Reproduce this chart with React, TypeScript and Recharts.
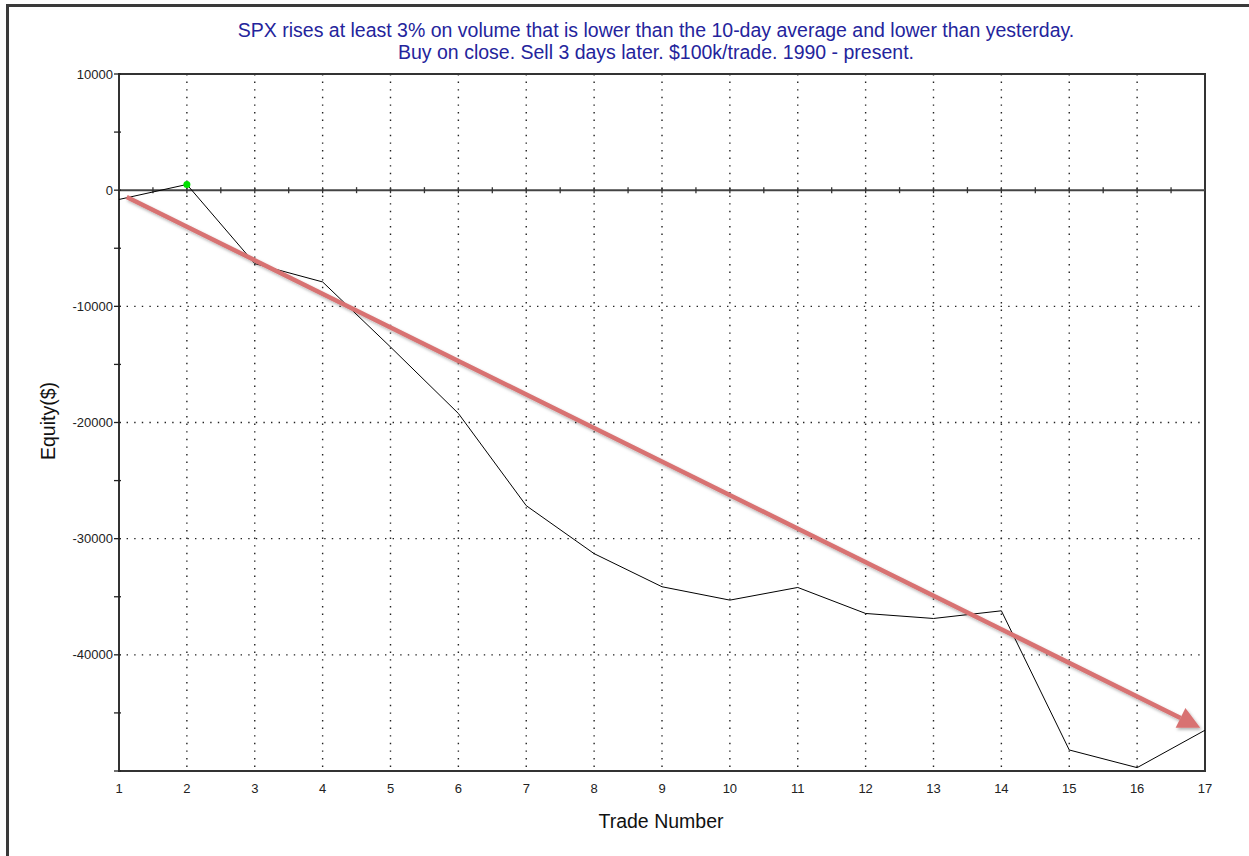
import React from "react";
import {
  LineChart,
  Line,
  XAxis,
  YAxis,
  CartesianGrid,
  ReferenceLine,
  ReferenceArea,
} from "recharts";

// trade number -> cumulative equity ($)
const trades = [1, 2, 3, 4, 5, 6, 7, 8, 9, 10, 11, 12, 13, 14, 15, 16, 17];
const equity = [
  -800, 490, -6320, -7900, -13500, -19220, -27160, -31290, -34140, -35290,
  -34200, -36440, -36870, -36210, -48190, -49710, -46490,
];

const xTicks = trades;
const yTicks = [10000, 5000, 0, -5000, -10000, -15000, -20000, -25000, -30000, -35000, -40000, -45000, -50000];
const yLabels = [10000, 0, -10000, -20000, -30000, -40000];
const gridX = [2, 3, 4, 5, 6, 7, 8, 9, 10, 11, 12, 13, 14, 15, 16];
const gridY = [-10000, -20000, -30000, -40000];

// hand drawn trend arrow (start / tip in data units)
const arrowFrom = { x: 1.113, y: -580 };
const arrowTo = { x: 16.93, y: -46270 };

const FONT = "Arial, 'Liberation Sans', sans-serif";

const data = trades.map((t, i) => ({ trade: t, equity: equity[i] }));
const peakIdx = equity.indexOf(Math.max(...equity));

function YTick(props: any) {
  const { x, y, payload } = props;
  const v = payload.value;
  return (
    <g>
      <line x1={x - 5} y1={y} x2={x + 2} y2={y} stroke="#222" strokeWidth={1.3} />
      {yLabels.includes(v) && (
        <text x={x - 6} y={y} dy="0.35em" textAnchor="end" fontSize={13} fill="#222" fontFamily={FONT}>
          {v}
        </text>
      )}
    </g>
  );
}

function XTick(props: any) {
  const { x, y, payload } = props;
  return (
    <text x={x} y={y} dy="0.71em" textAnchor="middle" fontSize={13} fill="#222" fontFamily={FONT}>
      {payload.value}
    </text>
  );
}

function ZeroLine(props: any) {
  const { x1, x2, y1 } = props;
  const n = (xTicks[xTicks.length - 1] - xTicks[0]) * 2;
  const step = (x2 - x1) / n;
  const marks = [];
  for (let i = 1; i < n; i++) {
    const x = x1 + i * step;
    marks.push(<line key={i} x1={x} x2={x} y1={y1 - 3} y2={y1 + 3} stroke="#333" strokeWidth={1.3} />);
  }
  return (
    <g>
      <line x1={x1} x2={x2} y1={y1} y2={y1} stroke="#444" strokeWidth={2} />
      {marks}
    </g>
  );
}

function Arrow(props: any) {
  const { x1, y1, x2, y2 } = props;
  const dx = x2 - x1;
  const dy = y2 - y1;
  const len = Math.sqrt(dx * dx + dy * dy);
  const ux = dx / len;
  const uy = dy / len;
  const headLen = 22;
  const headW = 11;
  const bx = x2 - ux * headLen;
  const by = y2 - uy * headLen;
  const color = "#d87272";
  return (
    <g filter="url(#arrowShadow)">
      <defs>
        <filter id="arrowShadow" x="-10%" y="-10%" width="120%" height="120%">
          <feDropShadow dx="1.5" dy="2" stdDeviation="1.5" floodColor="#000" floodOpacity="0.3" />
        </filter>
      </defs>
      <line x1={x1} y1={y1} x2={bx} y2={by} stroke={color} strokeWidth={4.5} />
      <polygon
        points={`${x2},${y2} ${bx - uy * headW},${by + ux * headW} ${bx + uy * headW},${by - ux * headW}`}
        fill={color}
      />
    </g>
  );
}

function Dot(props: any) {
  const { cx, cy, index } = props;
  if (index !== peakIdx) return <g key={index} />;
  return <circle key={index} cx={cx} cy={cy} r={3.5} fill="#00e000" />;
}

export default function App() {
  return (
    <div
      style={{
        position: "fixed",
        left: 0,
        top: 0,
        width: 1249,
        height: 856,
        background: "#fff",
        fontFamily: FONT,
        overflow: "hidden",
      }}
    >
      {/* window frame */}
      <div
        style={{
          position: "absolute",
          left: 6,
          top: 4,
          right: 0,
          bottom: 0,
          borderLeft: "3px solid #3a3a3a",
          borderTop: "3px solid #3a3a3a",
        }}
      />

      {/* title */}
      <div
        style={{
          position: "absolute",
          left: 156,
          top: 19,
          width: 1000,
          textAlign: "center",
          color: "#24249c",
          fontSize: 19.5,
          lineHeight: "22px",
        }}
      >
        <div>SPX rises at least 3% on volume that is lower than the 10-day average and lower than yesterday.</div>
        <div>Buy on close. Sell 3 days later. $100k/trade. 1990 - present.</div>
      </div>

      <div style={{ position: "absolute", left: 0, top: 0 }}>
        <LineChart
          width={1249}
          height={856}
          data={data}
          margin={{ top: 74, right: 44, bottom: 55, left: 59 }}
        >
          <CartesianGrid
            stroke="#222"
            strokeWidth={1.4}
            strokeDasharray="1.4 6.2"
            verticalValues={gridX}
            horizontalValues={gridY}
          />
          <XAxis
            dataKey="trade"
            type="number"
            domain={[1, 17]}
            ticks={xTicks}
            height={30}
            axisLine={false}
            tickLine={false}
            tickSize={0}
            tickMargin={13}
            tick={<XTick />}
            interval={0}
          />
          <YAxis
            type="number"
            domain={[-50000, 10000]}
            ticks={yTicks}
            width={60}
            axisLine={false}
            tickLine={false}
            tickSize={0}
            tickMargin={0}
            tick={<YTick />}
            interval={0}
          />
          <ReferenceArea
            x1={1}
            x2={17}
            y1={-50000}
            y2={10000}
            fill="none"
            stroke="#333"
            strokeWidth={2}
            ifOverflow="visible"
          />
          <ReferenceLine y={0} shape={(p: any) => <ZeroLine {...p} />} />
          <Line
            type="linear"
            dataKey="equity"
            stroke="#000"
            strokeWidth={1}
            dot={(p: any) => <Dot {...p} />}
            activeDot={false}
            isAnimationActive={false}
          />
          <ReferenceLine
            segment={[arrowFrom, arrowTo]}
            ifOverflow="visible"
            shape={(p: any) => <Arrow {...p} />}
          />
        </LineChart>
      </div>

      {/* axis titles */}
      <div
        style={{
          position: "absolute",
          left: 48,
          top: 421,
          transform: "translate(-50%, -50%) rotate(-90deg)",
          fontSize: 19.5,
          color: "#111",
          whiteSpace: "nowrap",
        }}
      >
        Equity($)
      </div>
      <div
        style={{
          position: "absolute",
          left: 661,
          top: 821,
          transform: "translate(-50%, -50%)",
          fontSize: 19.5,
          color: "#111",
          whiteSpace: "nowrap",
        }}
      >
        Trade Number
      </div>
    </div>
  );
}
